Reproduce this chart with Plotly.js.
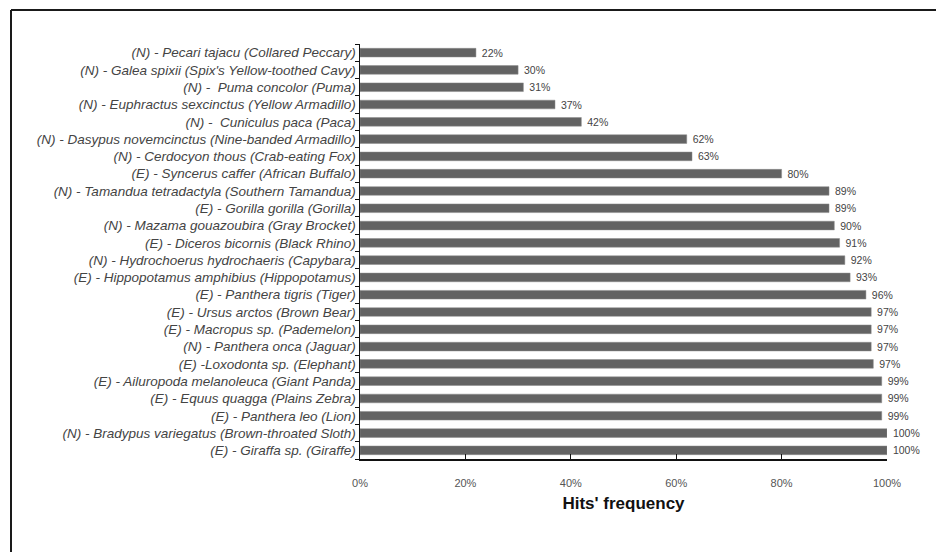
<!DOCTYPE html>
<html>
<head>
<meta charset="utf-8">
<script src="https://cdn.plot.ly/plotly-3.0.1.min.js"></script>
<style>
html,body{margin:0;padding:0;background:#fff;}
#chart{width:936px;height:552px;}
</style>
</head>
<body>
<div id="chart"></div>
<script>
// Species (top to bottom as displayed)
const species = [
  "(N) - Pecari tajacu (Collared Peccary)",
  "(N) - Galea spixii (Spix's Yellow-toothed Cavy)",
  "(N) -  Puma concolor (Puma)",
  "(N) - Euphractus sexcinctus (Yellow Armadillo)",
  "(N) -  Cuniculus paca (Paca)",
  "(N) - Dasypus novemcinctus (Nine-banded Armadillo)",
  "(N) - Cerdocyon thous (Crab-eating Fox)",
  "(E) - Syncerus caffer (African Buffalo)",
  "(N) - Tamandua tetradactyla (Southern Tamandua)",
  "(E) - Gorilla gorilla (Gorilla)",
  "(N) - Mazama gouazoubira (Gray Brocket)",
  "(E) - Diceros bicornis (Black Rhino)",
  "(N) - Hydrochoerus hydrochaeris (Capybara)",
  "(E) - Hippopotamus amphibius (Hippopotamus)",
  "(E) - Panthera tigris (Tiger)",
  "(E) - Ursus arctos (Brown Bear)",
  "(E) - Macropus sp. (Pademelon)",
  "(N) - Panthera onca (Jaguar)",
  "(E) -Loxodonta sp. (Elephant)",
  "(E) - Ailuropoda melanoleuca (Giant Panda)",
  "(E) - Equus quagga (Plains Zebra)",
  "(E) - Panthera leo (Lion)",
  "(N) - Bradypus variegatus (Brown-throated Sloth)",
  "(E) - Giraffa sp. (Giraffe)"
];
// Hits' frequency (%)
const hits = [22, 30, 31, 37, 42, 62, 63, 80, 89, 89, 90, 91, 92, 93, 96, 97, 97, 97, 97.4, 99, 99, 99, 100, 100];
const xTicks = [0, 20, 40, 60, 80, 100];
const xTickLabels = ["0%", "20%", "40%", "60%", "80%", "100%"];

const font = "Liberation Sans, Arial, sans-serif";

const trace = {
  type: "bar",
  orientation: "h",
  y: species,
  x: hits,
  marker: {color: "#636363", line: {color: "#8a8a8a", width: 0.5}},
  texttemplate: " %{x:.0f}%",
  textposition: "outside",
  constraintext: "none",
  cliponaxis: false,
  textfont: {family: font, size: 10.5, color: "#444"},
  hoverinfo: "skip"
};

const layout = {
  width: 936,
  height: 552,
  margin: {l: 360, r: 49, t: 44, b: 93},
  paper_bgcolor: "#fff",
  plot_bgcolor: "#fff",
  bargap: 0.5,
  showlegend: false,
  xaxis: {
    range: [0, 100],
    tickvals: xTicks,
    ticktext: xTickLabels,
    ticks: "inside",
    ticklen: 5,
    tickwidth: 1,
    tickcolor: "#111",
    showline: true,
    linecolor: "#111",
    linewidth: 1.5,
    showgrid: false,
    zeroline: false,
    ticklabelstandoff: 13,
    tickfont: {family: font, size: 11, color: "#555"},
    title: {text: "<b>Hits' frequency</b>", font: {family: font, size: 17, color: "#111"}, standoff: 9}
  },
  yaxis: {
    type: "category",
    categoryorder: "array",
    categoryarray: species.slice().reverse(),
    autorange: false,
    range: [-0.5, species.length - 0.5],
    tickson: "boundaries",
    ticks: "outside",
    ticklen: 4,
    tickwidth: 1,
    tickcolor: "#111",
    showline: true,
    linecolor: "#111",
    linewidth: 1.5,
    showgrid: false,
    zeroline: false,
    tickfont: {family: font, size: 13.5, color: "#444", style: "italic"}
  },
  shapes: [
    {type: "line", xref: "paper", yref: "paper", x0: (11 - 360) / 527, x1: (11 - 360) / 527, y0: (459 - 10) / 415, y1: (459 - 560) / 415, line: {color: "#1a1a1a", width: 2}},
    {type: "line", xref: "paper", yref: "paper", x0: (11 - 360) / 527, x1: (945 - 360) / 527, y0: (459 - 10) / 415, y1: (459 - 10) / 415, line: {color: "#1a1a1a", width: 2}}
  ]
};

Plotly.newPlot("chart", [trace], layout, {displayModeBar: false, staticPlot: true});
</script>
</body>
</html>
